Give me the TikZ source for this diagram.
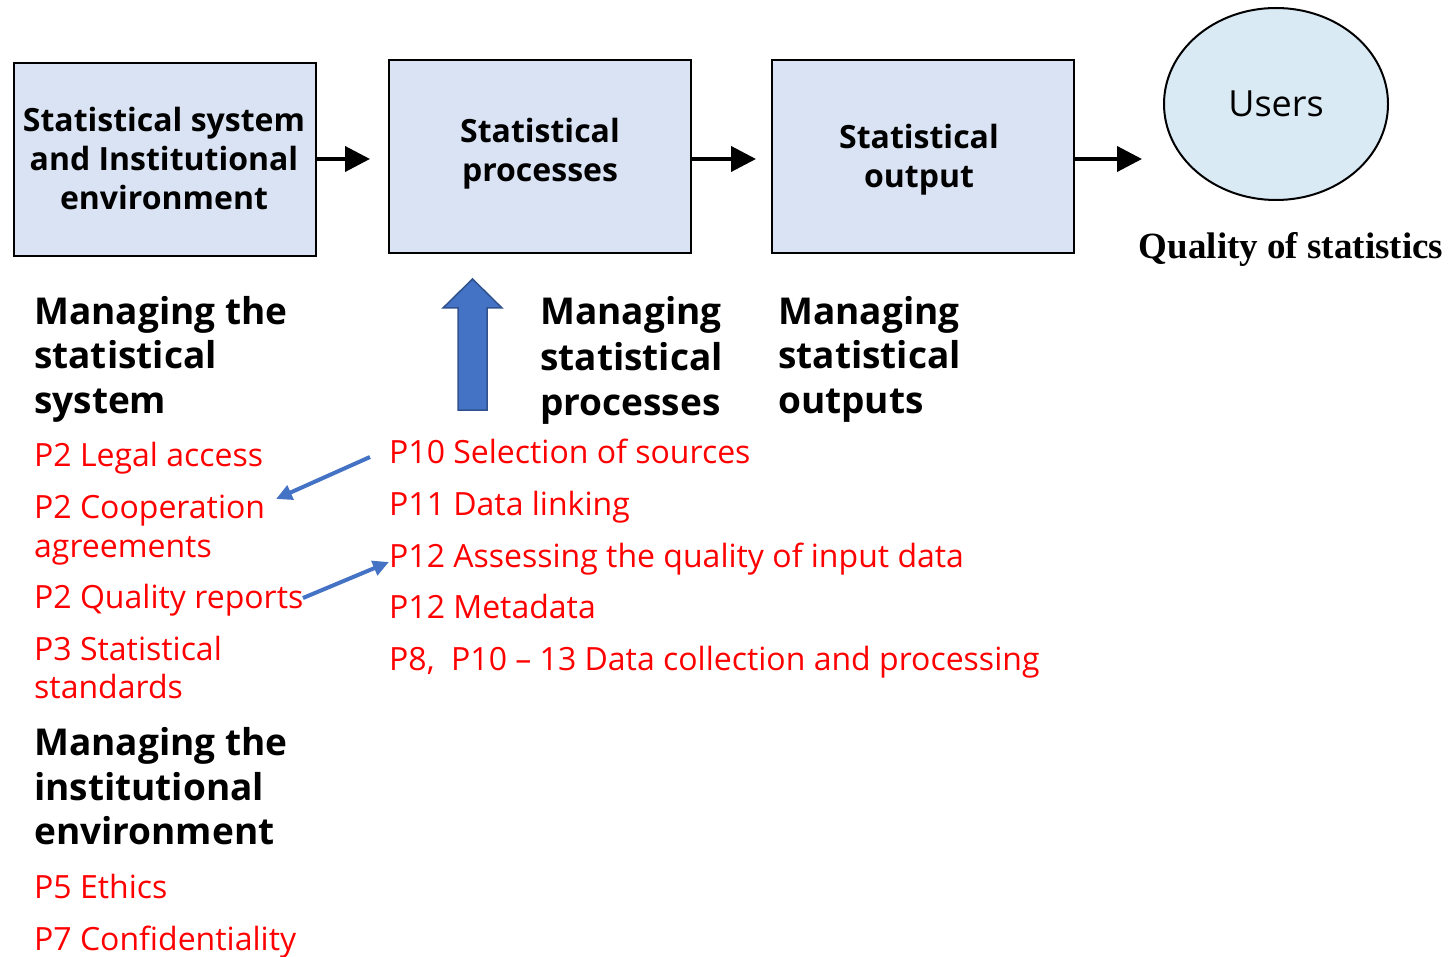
\documentclass[tikz,border=0pt]{standalone}
\usepackage{fontspec}
\setmainfont{Open Sans}
\newfontfamily\timesb{Liberation Serif}
\usetikzlibrary{arrows.meta,shapes.geometric}
\definecolor{boxfill}{HTML}{DAE3F3}
\definecolor{ellfill}{HTML}{D9EAF5}
\definecolor{ablue}{HTML}{4472C4}
\definecolor{aedge}{HTML}{2F528F}
\definecolor{pred}{HTML}{FF0000}
\tikzset{
  stbox/.style={draw=black, line width=2pt, fill=boxfill, minimum width=302pt, minimum height=193pt, inner sep=0, align=center, font=\bfseries\fontsize{32}{39}\selectfont},
  boxtxt/.style={align=center, font=\bfseries\fontsize{32}{39}\selectfont, inner sep=0},
  redtxt/.style={text=pred, font=\fontsize{32}{39}\selectfont, anchor=base west, inner sep=0},
  headtxt/.style={text=black, font=\bfseries\fontsize{37}{45}\selectfont, anchor=base west, inner sep=0},
  flowarrow/.style={line width=4pt, -{Triangle[length=25pt,width=25pt]}},
  bluearrow/.style={draw=ablue, line width=4pt, -{Triangle[length=16pt,width=15pt]}},
}
\begin{document}
\begin{tikzpicture}[x=1pt,y=-1pt]
\useasboundingbox (0,0) rectangle (1450,957);
% boxes
\node[stbox] (b1) at (165,159.5) {};
\node[boxtxt] (b1t) at (164,159) {Statistical system\\and Institutional\\environment};
\node[stbox] (b2) at (540,156.5) {};
\node[boxtxt] (b2t) at (540,154) {Statistical\\processes};
\node[stbox] (b3) at (923,156.5) {};
\node[boxtxt] (b3t) at (919,160) {Statistical\\output};
\node[draw=black, line width=2pt, fill=ellfill, ellipse, minimum width=224pt, minimum height=192pt, inner sep=0, font=\fontsize{36}{40}\selectfont] (users) at (1276,104) {Users};
\node[font=\timesb\bfseries\fontsize{37}{40}\selectfont, anchor=base, inner sep=0] (qual) at (1291,259) {Quality of statistics};
% flow arrows
\coordinate (a1) at (370,159);
\coordinate (a2) at (756,159);
\coordinate (a3) at (1142,159);
\draw[flowarrow] (b1.east |- a1) -- (a1);
\draw[flowarrow] (b2.east |- a2) -- (a2);
\draw[flowarrow] (b3.east |- a3) -- (a3);
% block arrow
\draw[fill=ablue, draw=aedge, line width=1.5pt, line join=miter] (458,410) -- (458,308) -- (443,308) -- (472.5,279) -- (502,308) -- (487,308) -- (487,410) -- cycle;
% left column
\node[headtxt] (h1a) at (34,324) {Managing the};
\node[headtxt] (h1b) at (34,368) {statistical};
\node[headtxt] (h1c) at (34,413) {system};
\node[redtxt] (l1) at (34,466.5) {P2 Legal access};
\node[redtxt] (l2) at (34,518.5) {P2 Cooperation};
\node[redtxt] (l2b) at (34,557.5) {agreements};
\node[redtxt] (l3) at (34,608.5) {P2 Quality reports};
\node[redtxt] (l4) at (34,660.5) {P3 Statistical};
\node[redtxt] (l4b) at (34,698.5) {standards};
\node[headtxt] (h2a) at (34,755) {Managing the};
\node[headtxt] (h2b) at (34,800) {institutional};
\node[headtxt] (h2c) at (34,844) {environment};
\node[redtxt] (l5) at (34,898.5) {P5 Ethics};
\node[redtxt] (l6) at (34,950.5) {P7 Confidentiality};
% middle column
\node[headtxt] (h3a) at (540,325) {Managing};
\node[headtxt] (h3b) at (540,370) {statistical};
\node[headtxt] (h3c) at (540,415) {processes};
\node[headtxt] (h4a) at (778,324) {Managing};
\node[headtxt] (h4b) at (778,368) {statistical};
\node[headtxt] (h4c) at (778,413) {outputs};
\node[redtxt] (r1) at (389,463.5) {P10 Selection of sources};
\node[redtxt] (r2) at (389,515.5) {P11 Data linking};
\node[redtxt] (r3) at (389,567.5) {P12 Assessing the quality of input data};
\node[redtxt] (r4) at (389,618.5) {P12 Metadata};
\node[redtxt] (r5) at (389,670.5) {P8,\ \ P10 -- 13 Data collection and processing};
% blue arrows
\coordinate (c1s) at (370,457);
\coordinate (c1e) at (276,499);
\coordinate (c2s) at (303,598);
\coordinate (c2e) at (389,562);
\draw[bluearrow] (c1s) -- (c1e);
\draw[bluearrow] (c2s) -- (c2e);
\end{tikzpicture}
\end{document}
